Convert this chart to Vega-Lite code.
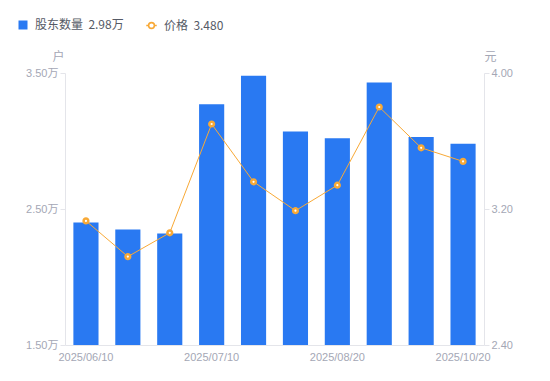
{
  "$schema": "https://vega.github.io/schema/vega-lite/v6.json",
  "autosize": "none",
  "width": 419,
  "height": 272,
  "padding": {"left": 65, "top": 73, "right": 66, "bottom": 36},
  "background": "white",
  "config": {
    "view": {"stroke": null},
    "font": "'Liberation Sans', 'Noto Sans CJK SC', sans-serif",
    "axis": {
      "labelFont": "'Liberation Sans', 'Noto Sans CJK SC', sans-serif",
      "titleFont": "'Noto Sans CJK SC', sans-serif",
      "labelColor": "#a4a7b5",
      "titleColor": "#a4a7b5",
      "labelFontSize": 11,
      "titleFontSize": 12,
      "titleFontWeight": "normal",
      "domainColor": "#e4e5ea",
      "tickColor": "#e4e5ea",
      "grid": false
    },
    "legend": {
      "labelFontSize": 12,
      "labelColor": "#555a66",
      "labelFont": "'Noto Sans CJK SC', sans-serif",
      "labelOffset": 6
    }
  },
  "data": {
    "values": [
      {"date": "2025/06/10", "holders": 24000, "price": 3.13},
      {"date": "2025/06/20", "holders": 23500, "price": 2.92},
      {"date": "2025/06/30", "holders": 23200, "price": 3.06},
      {"date": "2025/07/10", "holders": 32700, "price": 3.70},
      {"date": "2025/07/20", "holders": 34800, "price": 3.36},
      {"date": "2025/07/31", "holders": 30700, "price": 3.19},
      {"date": "2025/08/20", "holders": 30200, "price": 3.34},
      {"date": "2025/08/31", "holders": 34300, "price": 3.80},
      {"date": "2025/09/30", "holders": 30300, "price": 3.56},
      {"date": "2025/10/20", "holders": 29800, "price": 3.48}
    ]
  },
  "encoding": {
    "x": {
      "field": "date",
      "type": "ordinal",
      "sort": null,
      "scale": {"paddingInner": 0.4, "paddingOuter": 0.2},
      "axis": {
        "title": null,
        "labelAngle": 0,
        "ticks": false,
        "labelPadding": 6,
        "values": ["2025/06/10", "2025/07/10", "2025/08/20", "2025/10/20"]
      }
    }
  },
  "layer": [
    {
      "mark": {"type": "bar", "clip": true},
      "encoding": {
        "y": {
          "field": "holders",
          "type": "quantitative",
          "scale": {"domain": [15000, 35000], "nice": false, "zero": false},
          "axis": {
            "orient": "left",
            "title": "户",
            "titleAngle": 0,
            "titleX": -7,
            "titleY": -17,
            "titleAlign": "center",
            "titleBaseline": "middle",
            "values": [15000, 25000, 35000],
            "labelExpr": "format(datum.value / 10000, '.2f') + '万'",
            "tickSize": 5,
            "labelPadding": 2
          }
        },
        "y2": {"datum": 15000},
        "color": {
          "datum": "股东数量",
          "scale": {"domain": ["股东数量"], "range": ["#2979F2"]},
          "legend": {
            "title": null,
            "orient": "none",
            "legendX": -48,
            "legendY": -54,
            "symbolType": "square",
            "symbolSize": 81,
            "labelExpr": "'股东数量\u00a0\u00a02.98万'"
          }
        }
      }
    },
    {
      "encoding": {
        "y": {
          "field": "price",
          "type": "quantitative",
          "scale": {"domain": [2.4, 4.0], "nice": false, "zero": false},
          "axis": {
            "orient": "right",
            "title": "元",
            "titleAngle": 0,
            "titleX": 6,
            "titleY": -17,
            "titleAlign": "center",
            "titleBaseline": "middle",
            "values": [2.4, 3.2, 4.0],
            "format": ".2f",
            "tickSize": 5,
            "labelPadding": 2
          }
        },
        "stroke": {
          "datum": "价格",
          "scale": {"domain": ["价格"], "range": ["#F8A936"]},
          "legend": {
            "title": null,
            "orient": "none",
            "legendX": 80,
            "legendY": -54,
            "symbolType": "M-1,0L-0.55,0M0.55,0L1,0M0.55,0A0.55,0.55,0,1,1,-0.55,0A0.55,0.55,0,1,1,0.55,0Z",
            "symbolSize": 110,
            "symbolFillColor": "#ffffff",
            "symbolStrokeWidth": 1.6,
            "labelExpr": "'价格\u00a0\u00a03.480'"
          }
        }
      },
      "layer": [
        {"mark": {"type": "line", "strokeWidth": 1}},
        {"mark": {"type": "point", "filled": false, "fill": "#ffffff", "fillOpacity": 1, "strokeWidth": 2.5, "size": 22, "opacity": 1}}
      ]
    }
  ],
  "resolve": {"scale": {"y": "independent"}}
}
